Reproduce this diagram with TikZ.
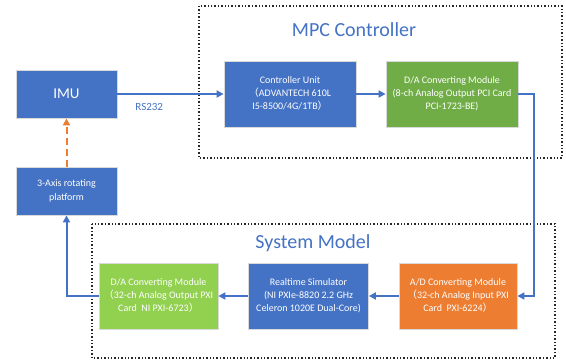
\documentclass[tikz,border=0pt]{standalone}
\usepackage{fontspec}
\setmainfont{Carlito}
\newfontfamily\cjk{Noto Sans CJK SC}
\usetikzlibrary{arrows.meta}
\definecolor{obl}{HTML}{4472C4}
\definecolor{ogr}{HTML}{70AD47}
\definecolor{lgr}{HTML}{92D050}
\definecolor{ora}{HTML}{ED7D31}
\newcommand{\lp}{{\cjk （}}
\newcommand{\rp}{{\cjk ）}}
\tikzset{
  blk/.style={draw=white!85!black, line width=0.8pt, text=white, align=center,
    font=\fontsize{10}{13}\selectfont, inner sep=0pt},
  conn/.style={draw=obl, line width=2pt, -{Triangle[length=7pt,width=7pt]}},
  grp/.style={draw=black!85, line width=1.2pt, dash pattern=on 1.4pt off 2pt},
  ttl/.style={text=obl, font=\fontsize{20}{24}\selectfont}
}
\begin{document}
\begin{tikzpicture}[x=1pt,y=-1pt]
\useasboundingbox (0,0) rectangle (566,360);
% group boxes
\draw[grp] (199,6) rectangle (562,158);
\draw[grp] (92,224) rectangle (555,358);
\node[ttl] (t1) at (354,30) {MPC Controller};
\node[ttl] (t2) at (313,243) {System Model};
% blocks
\node[blk, fill=obl, minimum width=101pt, minimum height=48pt, font=\fontsize{15}{18}\selectfont] (imu) at (66.5,94) {IMU};
\node[blk, fill=obl, minimum width=101pt, minimum height=48pt, font=\fontsize{10}{14}\selectfont] (rot) at (66.5,191) {3-Axis rotating\\platform};
\node[blk, fill=obl, minimum width=132pt, minimum height=66pt] (cu) at (290,94) {Controller Unit\\\lp ADVANTECH 610L\\I5-8500/4G/1TB\rp};
\node[blk, fill=ogr, minimum width=132pt, minimum height=66pt] (da1) at (452,94) {D/A Converting Module\\(8-ch Analog Output PCI Card\\PCI-1723-BE)};
\node[blk, fill=ora, minimum width=118pt, minimum height=66pt] (ad) at (458,296) {A/D Converting Module\\\lp 32-ch Analog Input PXI\\Card\ \ PXI-6224\rp};
\node[blk, fill=obl, minimum width=120pt, minimum height=66pt] (rt) at (308.5,296) {Realtime Simulator\\(NI PXIe-8820 2.2 GHz\\Celeron 1020E Dual-Core)};
\node[blk, fill=lgr, minimum width=119pt, minimum height=66pt] (da2) at (158.5,296) {D/A Converting Module\\\lp 32-ch Analog Output PXI\\Card\ \ NI PXI-6723\rp};
% connectors
\draw[conn] (imu.east) -- (cu.west) node[pos=0.3, below=5pt, text=obl, font=\fontsize{11}{13}\selectfont] (rs) {RS232};
\draw[conn] (cu.east) -- (da1.west);
\coordinate (c1) at (534,94);
\coordinate (c2) at (534,296);
\draw[conn] (da1.east) -- (c1) -- (c2) -- (ad.east);
\draw[conn] (ad.west) -- (rt.east);
\draw[conn] (rt.west) -- (da2.east);
\coordinate (c3) at (66.5,296);
\draw[conn] (da2.west) -- (c3) -- (rot.south);
\draw[draw=ora, line width=2pt, dash pattern=on 7pt off 4pt, -{Triangle[length=7pt,width=7pt]}] (rot.north) -- (imu.south);
\end{tikzpicture}
\end{document}
